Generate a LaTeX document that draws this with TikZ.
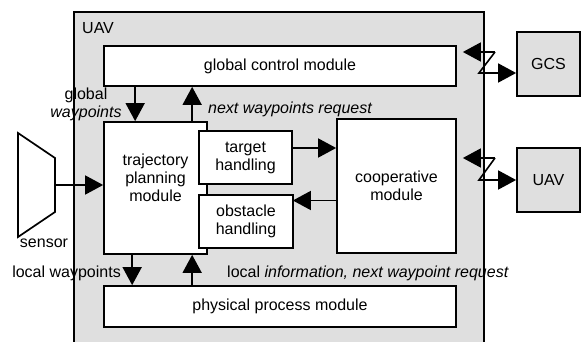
\documentclass[tikz,border=0pt]{standalone}
\usepackage{fontspec}
\setmainfont{Liberation Sans}
\usetikzlibrary{arrows.meta}

\begin{document}
\begin{tikzpicture}[x=1pt,y=-1pt,font=\fontsize{16}{18}\selectfont]

	\tikzset{module/.style = {shape=rectangle,draw,fill=white,line width=1.7pt,align=center,inner sep=0pt}}
	\tikzset{outer/.style = {module,fill=gray!25}}
	\tikzset{edge/.style = {->,> = {Triangle[length=18pt 0,width=19pt 0]},line width=1.6pt}}
	\tikzset{lbl/.style = {inner sep=0pt,align=center}}

	\useasboundingbox (0,0) rectangle (581,342);

	% the UAV frame
	\fill[gray!25] (74,12) rectangle (484,350);
	\draw[line width=1.7pt] (74,350) -- (74,12) -- (484,12) -- (484,350);
	\node[lbl,anchor=west] (uavlbl) at (82,28) {UAV};

	\node[module,minimum width=352pt,minimum height=40pt] (gcm) at (280,66) {global control module};
	\node[module,minimum width=103pt,minimum height=132pt] (tpm) at (155.5,188) {};
	\node[lbl] (tpmtext) at (155.5,178) {trajectory\\planning\\module};
	\node[module,minimum width=93pt,minimum height=53pt] (target) at (245.5,157.5) {target\\handling};
	\node[module,minimum width=94pt,minimum height=53pt] (obstacle) at (246,221.5) {obstacle\\handling};
	\node[module,minimum width=119pt,minimum height=134pt] (coop) at (396.5,186) {cooperative\\module};
	\node[module,minimum width=352pt,minimum height=41pt] (ppm) at (280,306.5) {physical process module};

	% outside
	\node[outer,minimum width=63pt,minimum height=64pt] (gcs) at (548.5,64) {GCS};
	\node[outer,minimum width=63pt,minimum height=64pt] (uav2) at (548.5,180) {UAV};
	\draw[line width=1.7pt] (18,133) -- (55,158) -- (55,212) -- (18,237) -- cycle;
	\coordinate (sensorout) at (55,185);
	\node[lbl] (sensorlbl) at (44,243) {sensor};

	\draw[edge] (sensorout) -- (tpm.west |- sensorout);
	\draw[edge] ([xshift=32pt]gcm.south west) -- ([xshift=32pt]gcm.south west |- tpm.north);
	\draw[edge] ([xshift=89pt]tpm.north west) -- ([xshift=89pt]tpm.north west |- gcm.south);
	\draw[edge] ([yshift=9.5pt]target.east) -- ([yshift=9.5pt]target.east -| coop.west);
	\draw[edge] ([yshift=-14.5pt]coop.west) -- ([yshift=-14.5pt]coop.west -| target.east);
	\draw[edge] ([xshift=29pt]tpm.south west) -- ([xshift=29pt]tpm.south west |- ppm.north);
	\draw[edge] ([xshift=89pt]ppm.north west) -- ([xshift=89pt]ppm.north west |- tpm.south);

	\node[lbl] (gwlbl) at (86,104) {global\\\textit{waypoints}};
	\node[lbl,anchor=west] (nwlbl) at (208,109) {\textit{next waypoints request}};
	\node[lbl,anchor=east] (lwlbl) at (121,273) {local waypoints};
	\node[lbl,anchor=west] (lilbl) at (227,273) {local \textit{information, next waypoint request}};

	% wireless links
	\coordinate (z1a) at (495,52);
	\coordinate (z1b) at (479,73);
	\coordinate (z2a) at (495,158);
	\coordinate (z2b) at (479,180);
	\draw[edge,shorten >=6pt] (z1a) -- (z1a -| gcm.east);
	\draw[edge] (z1a) -- (z1b) -- (z1b -| gcs.west);
	\draw[edge,shorten >=6pt] (z2a) -- (z2a -| coop.east);
	\draw[edge] (z2a) -- (z2b) -- (z2b -| uav2.west);
\end{tikzpicture}
\end{document}
